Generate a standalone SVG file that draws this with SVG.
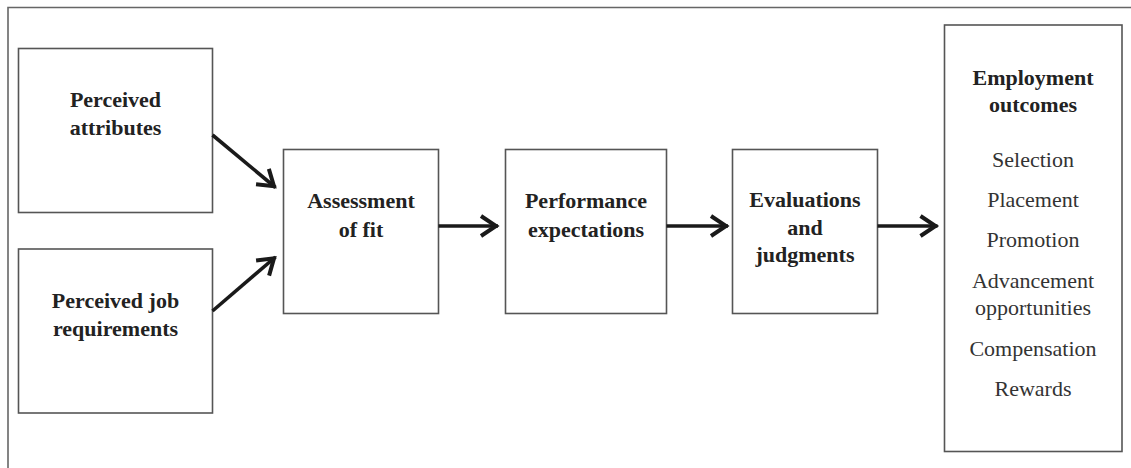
<svg xmlns="http://www.w3.org/2000/svg" width="1131" height="468" viewBox="0 0 1131 468">
<style>
.box{fill:#fff;stroke:#555;stroke-width:1.6}
.frame{fill:none;stroke:#666;stroke-width:1.6}
.b{font-family:"Liberation Serif","Times New Roman",serif;font-weight:bold;font-size:22px;fill:#222;text-anchor:middle}
.r{font-family:"Liberation Serif","Times New Roman",serif;font-size:22px;fill:#333;text-anchor:middle}
.conn{stroke:#1a1a1a;stroke-width:3.6;fill:none;marker-end:url(#ah)}
</style>
<defs>
<marker id="ah" markerUnits="userSpaceOnUse" viewBox="-22 -14 26 28" refX="0" refY="0" markerWidth="26" markerHeight="28" orient="auto">
<path d="M-17,-10 L-2,0 L-17,10" fill="none" stroke="#1a1a1a" stroke-width="4" stroke-linejoin="miter"/>
</marker>
</defs>
<rect width="1131" height="468" fill="#fff"/>
<path class="frame" d="M8,475 L8,7.5 L1140,7.5"/>
<g id="perceived-attributes">
<rect class="box" x="18.5" y="48.5" width="194" height="164"/>
<text class="b" x="115.5" y="107">Perceived</text>
<text class="b" x="115.5" y="135">attributes</text>
</g>
<g id="perceived-job-requirements">
<rect class="box" x="18.5" y="249" width="194" height="164"/>
<text class="b" x="115.5" y="308">Perceived job</text>
<text class="b" x="115.5" y="336">requirements</text>
</g>
<g id="assessment-of-fit">
<rect class="box" x="283.5" y="149.5" width="155" height="164"/>
<text class="b" x="361" y="208">Assessment</text>
<text class="b" x="361" y="236.5">of fit</text>
</g>
<g id="performance-expectations">
<rect class="box" x="505.5" y="149.5" width="161" height="164"/>
<text class="b" x="586" y="208">Performance</text>
<text class="b" x="586" y="236.5">expectations</text>
</g>
<g id="evaluations-judgments">
<rect class="box" x="732.5" y="149.5" width="145" height="164"/>
<text class="b" x="805" y="207">Evaluations</text>
<text class="b" x="805" y="234.5">and</text>
<text class="b" x="805" y="262">judgments</text>
</g>
<g id="employment-outcomes">
<rect class="box" x="944.5" y="25" width="177.5" height="426.5"/>
<text class="b" x="1033" y="85">Employment</text>
<text class="b" x="1033" y="112">outcomes</text>
<text class="r" x="1033" y="167">Selection</text>
<text class="r" x="1033" y="207">Placement</text>
<text class="r" x="1033" y="247">Promotion</text>
<text class="r" x="1033" y="288">Advancement</text>
<text class="r" x="1033" y="315">opportunities</text>
<text class="r" x="1033" y="356">Compensation</text>
<text class="r" x="1033" y="395.5">Rewards</text>
</g>
<g id="connectors">
<path class="conn" d="M212.5,135 L275.5,187.5"/>
<path class="conn" d="M212.5,311 L275.5,257"/>
<path class="conn" d="M438.5,226 L498,226"/>
<path class="conn" d="M666.5,226 L728,226"/>
<path class="conn" d="M877.5,226 L937.5,226"/>
</g>
</svg>
